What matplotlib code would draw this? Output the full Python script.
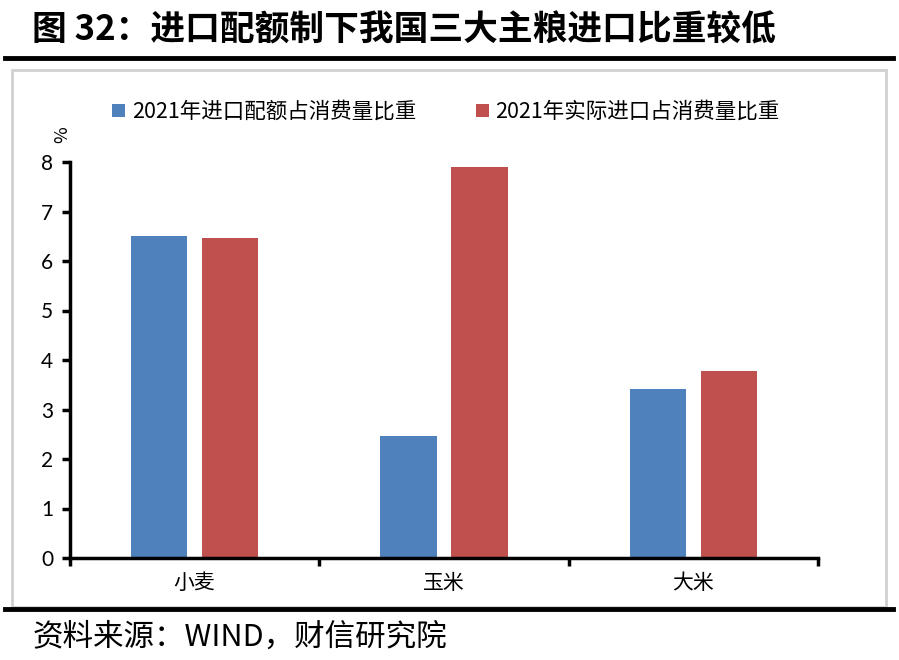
import numpy as np
import matplotlib.pyplot as plt
from matplotlib.patches import Rectangle
from matplotlib.lines import Line2D

plt.rcParams['font.family'] = ['Noto Sans CJK SC', 'DejaVu Sans']

categories = ['小麦', '玉米', '大米']
quota_share = [6.50, 2.46, 3.41]
actual_share = [6.46, 7.89, 3.77]
series_names = ['2021年进口配额占消费量比重', '2021年实际进口占消费量比重']
colors = ['#4F81BD', '#C0504D']

W, H = 899, 660
fig = plt.figure(figsize=(W / 100, H / 100), dpi=100)

# title, rules and frame
fig.text(32 / W, 1 - 30 / H, '图 32：进口配额制下我国三大主粮进口比重较低',
         fontsize=25, fontweight='bold', va='center', ha='left')
fig.add_artist(Line2D([5 / W, 893 / W], [1 - 58 / H, 1 - 58 / H], color='black', lw=3.5))
fig.add_artist(Rectangle((12 / W, 1 - 607 / H), 874 / W, 537 / H, fill=False,
                         edgecolor='#d0d0d0', lw=2))
fig.add_artist(Line2D([5 / W, 893 / W], [1 - 609 / H, 1 - 609 / H], color='black', lw=3.5))
fig.text(32 / W, 1 - 637 / H, '资料来源：WIND，财信研究院', fontsize=22,
         style='italic', va='center', ha='left')

ax = fig.add_axes([70 / W, 1 - 558 / H, 748 / W, 396 / H])
x = np.arange(len(categories))
w = 0.225
ax.bar(x - 0.03 - w / 2, quota_share, w, color=colors[0], label=series_names[0])
ax.bar(x + 0.03 + w / 2, actual_share, w, color=colors[1], label=series_names[1])

ax.set_xlim(-0.5, 2.5)
ax.set_ylim(0, 8)
ax.set_yticks(range(0, 9))
ax.tick_params(axis='y', labelsize=15, width=2.5, length=6, direction='out', pad=6)
for t in ax.get_yticklabels():
    t.set_family(['Lato', 'DejaVu Sans'])
ax.set_xticks([-0.5, 0.5, 1.5, 2.5])
ax.set_xticklabels([])
ax.set_xticks(x, minor=True)
ax.set_xticklabels(categories, minor=True, fontsize=15)
ax.tick_params(axis='x', which='major', width=2.5, length=6, direction='out')
ax.tick_params(axis='x', which='minor', length=0, pad=10)
for s in ['top', 'right']:
    ax.spines[s].set_visible(False)
ax.spines['left'].set_linewidth(2.5)
ax.spines['bottom'].set_linewidth(2.5)

ax.text(-0.011, 1.068, '%', transform=ax.transAxes, rotation=90, fontsize=13,
        ha='center', va='center')

fig.legend(loc='center', bbox_to_anchor=(446 / W, 1 - 112 / H), ncol=2,
           frameon=False, fontsize=15.5, handlelength=0.6, handleheight=0.6,
           handletextpad=0.3, columnspacing=2.8)

fig.savefig('out.png', dpi=100)
